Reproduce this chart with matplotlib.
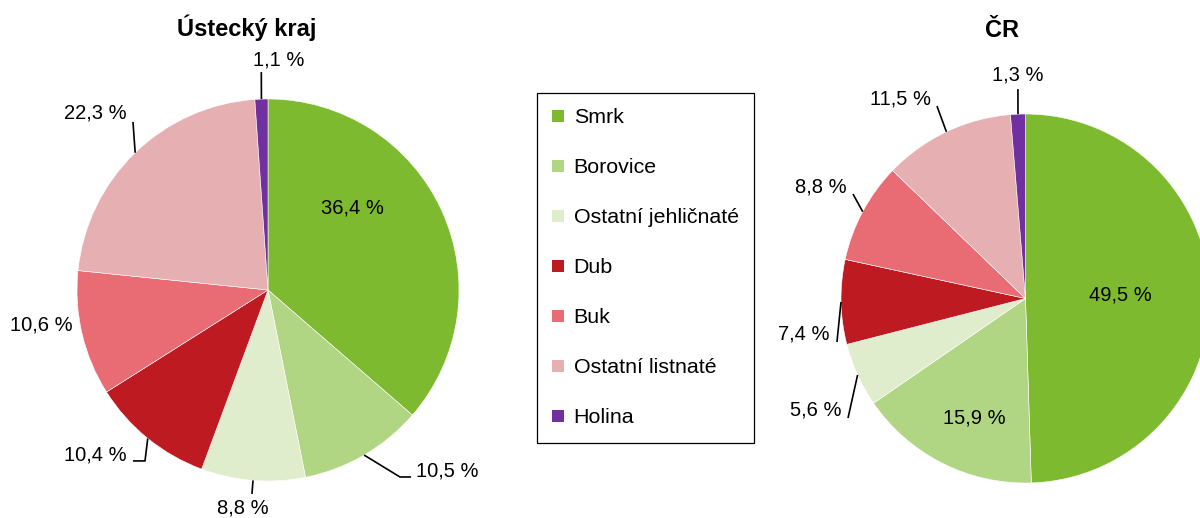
import matplotlib
matplotlib.use("Agg")
import numpy as np
import matplotlib.pyplot as plt

plt.rcParams['font.family'] = ['Liberation Sans', 'DejaVu Sans']

# ---------------------------
# Data
# ---------------------------
species = ["Smrk", "Borovice", "Ostatní jehličnaté", "Dub", "Buk",
           "Ostatní listnaté", "Holina"]
colors = ["#7EBA2F", "#B1D683", "#DFEDCC", "#BE1A22", "#E96B73",
          "#E6AFB2", "#7030A0"]

usti_values = [36.4, 10.5, 8.8, 10.4, 10.6, 22.3, 1.1]
cr_values = [49.5, 15.9, 5.6, 7.4, 8.8, 11.5, 1.3]

titles = ["Ústecký kraj", "ČR"]

# ---------------------------
# Layout (pixels in a 1200x518 canvas, radius-1 data units for labels)
# ---------------------------
W, H = 1200, 518
FS = 14.5
LEG_FS = 15.4

# pie centre (x, y from top) and radius in px
pie_geom = [(268, 290, 191), (1025.5, 298.5, 184.5)]
title_pos = [(247, 36), (1002, 37)]

# per slice: (label x, label y, leader elbow points) in pie radius units;
# None for elbows means the label sits inside or needs no leader
usti_layout = [
    ((0.44, 0.43), None),
    ((0.937, -0.948), [(0.749, -0.979), (0.691, -0.979)]),
    ((-0.131, -1.141), [(-0.084, -1.068)]),
    ((-0.906, -0.864), [(-0.707, -0.895), (-0.644, -0.895)]),
    ((-1.188, -0.183), None),
    ((-0.906, 0.927), [(-0.707, 0.880)]),
    ((0.058, 1.204), [(-0.035, 1.141)]),
]
cr_layout = [
    ((0.512, 0.019), None),
    ((-0.279, -0.648), None),
    ((-1.136, -0.604), [(-0.962, -0.648)]),
    ((-1.201, -0.192), [(-1.022, -0.236)]),
    ((-1.108, 0.604), [(-0.935, 0.566)]),
    ((-0.680, 1.081), [(-0.480, 1.043)]),
    ((-0.041, 1.211), [(-0.041, 1.135)]),
]


def fmt(v):
    return f"{v:.1f}".replace(".", ",") + " %"


def draw_pie(fig, values, geom, layout):
    cx, cy, r = geom
    span = 1.4
    side = 2 * span * r
    ax = fig.add_axes([(cx - side / 2) / W, (H - cy - side / 2) / H,
                       side / W, side / H])
    wedges, _ = ax.pie(values, colors=colors, startangle=90,
                       counterclock=False, radius=1,
                       wedgeprops=dict(edgecolor="white", linewidth=0.4))
    ax.set_xlim(-span, span)
    ax.set_ylim(-span, span)
    ax.set_aspect("equal")
    ax.axis("off")

    for w, v, (txt_pos, elbows) in zip(wedges, values, layout):
        ax.text(txt_pos[0], txt_pos[1], fmt(v), ha="center", va="center",
                fontsize=FS, color="black")
        if elbows is None:
            continue
        # leader line ends on the wedge rim at its mid angle
        mid = np.deg2rad((w.theta1 + w.theta2) / 2)
        rim = (np.cos(mid), np.sin(mid))
        pts = list(elbows) + [rim]
        xs = [p[0] for p in pts]
        ys = [p[1] for p in pts]
        ax.plot(xs, ys, color="black", lw=1.2, solid_capstyle="butt")
    return wedges


fig = plt.figure(figsize=(W / 100, H / 100), dpi=100)

wedges = draw_pie(fig, usti_values, pie_geom[0], usti_layout)
draw_pie(fig, cr_values, pie_geom[1], cr_layout)

for (tx, ty), t in zip(title_pos, titles):
    fig.text(tx / W, 1 - ty / H, t, ha="center", va="baseline",
             fontsize=17, fontweight="bold")

leg = fig.legend(wedges, species, loc="upper left",
                 bbox_to_anchor=(537 / W, 1 - 93 / H), borderaxespad=0,
                 fontsize=LEG_FS, frameon=True, fancybox=False, shadow=False,
                 edgecolor="black", framealpha=1,
                 handlelength=0.52, handleheight=0.52, handletextpad=0.47,
                 labelspacing=1.45, borderpad=0.72)
leg.get_frame().set_linewidth(0.9)
for h in leg.legend_handles:
    h.set_edgecolor("none")

fig.savefig("out.png", dpi=100)
